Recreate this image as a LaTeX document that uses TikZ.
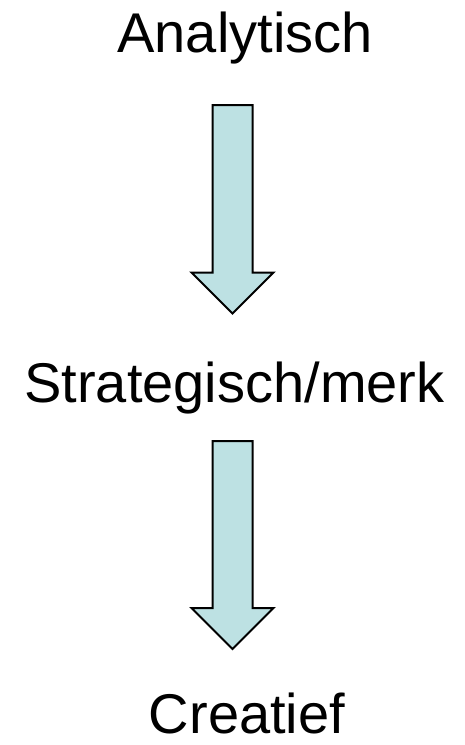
\documentclass[tikz,border=0pt]{standalone}
\usepackage{fontspec}
\setmainfont{Liberation Sans}
\definecolor{pijlblauw}{RGB}{189,225,227}
\tikzset{
  woord/.style={anchor=base, inner sep=0pt, font=\fontsize{56}{60}\selectfont},
  pijl/.style={draw=black, fill=pijlblauw, line width=2pt, line join=miter}
}
\begin{document}
\begin{tikzpicture}[x=1pt, y=-1pt]
	\useasboundingbox (0,0) rectangle (465,745);
	\node[woord] (ana) at (245,52) {Analytisch};
	\node[woord] (strat) at (234.5,402) {Strategisch/merk};
	\node[woord] (crea) at (247,733) {Creatief};
	% pijl 1
	\draw[pijl] (212.5,105)--(252.5,105)--(252.5,272.5)--(273.5,272.5)--(232.5,313.5)--(191.5,272.5)--(212.5,272.5)--cycle;
	% pijl 2
	\draw[pijl] (212.5,441)--(252.5,441)--(252.5,608)--(273.5,608)--(232.5,649)--(191.5,608)--(212.5,608)--cycle;
\end{tikzpicture}
\end{document}
